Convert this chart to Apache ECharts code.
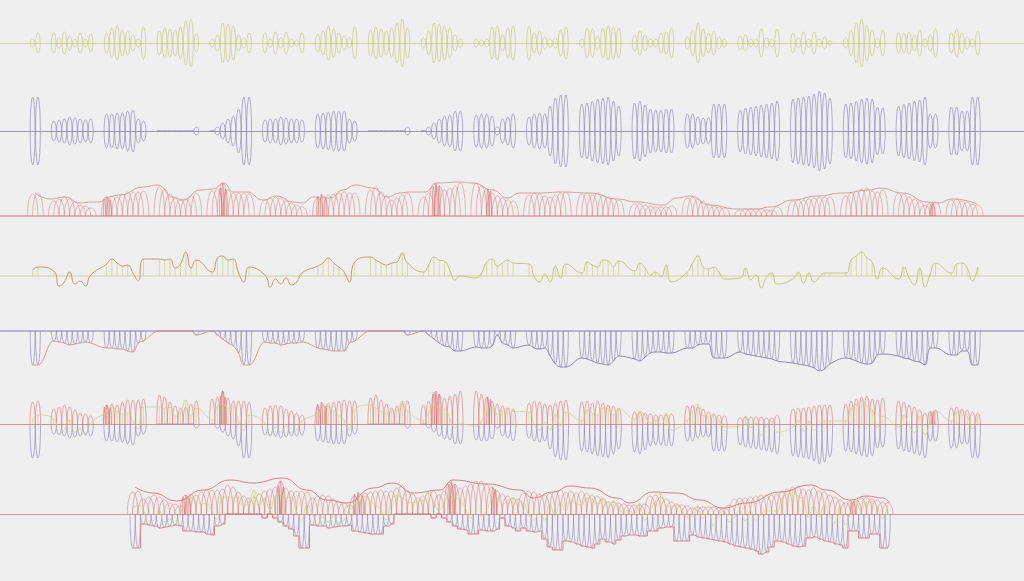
<!DOCTYPE html>
<html><head><meta charset="utf-8">
<script src="https://cdn.jsdelivr.net/npm/echarts@6/dist/echarts.min.js"></script>
<style>html,body{margin:0;padding:0;background:#efefef}#c{width:1024px;height:581px}</style>
</head><body><div id="c"></div>
<script>
// ---- data ----
const segmentSizes = [2,8,8,8,8,8,8,8,8,8,8,8,8,8,8,8,8,8,6];
// row 1: yellow oscillation amplitude
const yellowAmp = [
 4,10,
 10,5,11,7,4,10,4,9,
 10,15,17,13,12,8,4,16,
 12,15,14,13,16,22,24,9,
 4,8,20,19,17,8,5,10,
 10,4,11,5,11,4,3,10,
 9,12,17,14,10,7,5,16,
 13,16,14,12,15,20,24,15,
 5,12,20,19,17,15,8,4,
 4,3,4,16,17,8,15,17,
 17,10,12,6,4,5,13,16,
 4,15,14,7,15,17,16,15,
 8,12,8,4,4,10,11,15,
 6,13,20,14,10,12,6,4,
 7,8,4,4,14,5,4,14,
 10,5,11,4,11,4,6,2,
 5,13,20,24,18,13,5,13,
 10,10,11,8,13,4,8,14,
 10,14,10,6,4,12
];
// row 2 / row 5: purple amplitude
const purpleAmp = [
 34,34,
 10,11,12,14,13,12,11,12,
 17,17,18,18,20,21,12,10,
 0,0,0,0,0,0,0,4,
 0,4,8,12,15,22,34,34,
 11,12,12,14,13,12,12,11,
 17,18,19,20,20,20,12,10,
 0,0,0,0,0,0,0,4,
 0,4,8,12,15,16,20,20,
 16,17,17,15,4,12,14,17,
 14,17,18,17,25,33,36,36,
 27,28,30,32,33,34,30,25,
 28,30,26,22,21,21,22,22,
 17,17,14,13,13,27,27,27,
 21,23,24,25,26,27,28,30,
 32,33,34,35,37,40,38,33,
 27,28,30,32,33,32,24,23,
 25,27,28,30,31,34,17,17,
 24,24,20,20,34,34
];
// row 3: red arch height
const redArch = [
 22,23,
 15,17,19,17,14,11,10,8,
 19,20,19,22,24,24,24,25,
 29,27,22,18,16,17,20,23,
 25,27,33,26,23,23,23,22,
 16,18,19,18,15,13,11,9,
 18,20,21,22,23,24,23,23,
 26,29,24,20,16,18,21,23,
 19,23,32,30,26,28,30,33,
 33,30,27,23,20,18,16,15,
 21,23,22,20,19,21,23,24,
 22,23,21,23,21,19,18,16,
 12,12,11,10,9,9,9,10,
 18,19,17,15,12,10,9,8,
 6,7,7,7,7,6,6,9,
 15,16,16,17,18,19,19,19,
 20,23,25,27,28,25,24,26,
 23,22,19,17,14,11,13,14,
 16,17,15,14,12,11
];
// row 4: yellow signed wave
const yellowWave = [
 6,9,
 5,-10,-6,4,-8,-5,-10,1,
 12,17,13,10,11,3,-5,17,
 17,16,17,8,12,24,8,16,
 4,18,20,16,17,3,-6,9,
 1,-11,-3,-8,-2,-9,-6,3,
 10,13,18,13,9,4,-6,14,
 19,16,13,11,13,14,23,13,
 4,11,19,16,15,6,-4,0,
 -2,3,14,17,10,13,16,13,
 12,-1,-6,2,-6,10,-2,12,
 3,14,11,9,16,15,9,15,
 5,13,8,1,4,-1,11,-6,
 4,13,20,9,7,9,4,-3,
 -2,8,-4,1,-12,-1,3,-8,
 -3,4,-7,3,-6,-1,3,3,
 3,16,20,24,18,14,-3,8,
 -3,9,-2,-9,8,-11,2,13,
 3,12,13,8,-5,9
];
// row 3 envelope: [slot position, height]
const redEnvelope = [[0.95,23],[3.79,17],[6.63,19],[9.47,13],[11.74,14],[13.26,14],[14.58,19],[17.05,21],[21.4,29],[24.24,31],[27.08,19],[28.98,16],[32.2,26],[34.66,27],[36.74,33],[38.45,24],[41.1,24],[44.13,16],[46.78,20],[49.81,14],[51.7,13],[53.6,19],[56.82,18],[59.28,26],[61.55,31],[64.96,28],[67.61,19],[70.08,23],[71.97,24],[74.81,24],[77.08,33],[81.44,34],[83.9,33],[87.69,26],[90.34,18],[92.8,23],[96.02,23],[100.95,24],[106.06,23],[111.17,17],[114.96,14],[119.89,11],[122.54,18],[125,20],[128.79,11],[133.9,7],[137.69,7],[140.15,9],[144.5,16],[149.05,20],[153.98,23],[159.09,26],[160.98,28],[165.34,23],[169.89,14],[171.78,13],[174.81,17],[179.36,12]];
// row 7 envelope: [packed position, height]
const mergedEnvelope = [[0.95,27],[4.36,21],[8.9,13],[13.83,24],[18.94,34],[23.3,31],[28.98,36],[33.52,24],[37.31,14],[41.1,11],[46.02,26],[49.81,31],[53.6,21],[58.71,24],[61.17,34],[67.61,30],[73.86,24],[76.33,16],[80.11,22],[83.33,28],[87.12,26],[92.23,16],[94.7,11],[99.05,22],[103.6,21],[107.95,14],[112.31,6],[116.86,11],[123.11,22],[128.79,29],[132.01,24],[136.36,14],[139.58,18],[142.61,16],[143.9,11]];
// narrow red spikes: [slot position, height]
const redSpikes = [[14.1,17],[14.6,19],[15.2,16],[36.1,28],[36.5,33],[37.0,27],[54.5,20],[55.2,22],[56.0,18],[76.4,30],[76.9,33],[77.5,30],[86.7,27],[87.2,25],[170.6,12],[171.1,13]];

// ---- layout helpers ----
const segStart = [], segCum = [];
(function(){ let s=0,c=0; segmentSizes.forEach(sz=>{segStart.push(s);segCum.push(c);s+=sz+2;c+=sz;}); })();
const slotX = [];
segmentSizes.forEach((sz,k)=>{ for(let j=0;j<sz;j++) slotX.push(segStart[k]+j+0.5); });
const packX = slotX.map((_,i)=>i+0.5);
function toPacked(p){ for(let k=segmentSizes.length-1;k>=0;k--){ if(p>=segStart[k]) return segCum[k]+Math.min(p-segStart[k],segmentSizes[k]); } return p; }

const Y='#c4c974', P='#9086bd', R='#de7a7a';
const rows = [
 {top:0,  h:86, r:43, base:'#d4d79f', bw:1},
 {top:88, h:86, r:43, base:'#9d94c6', bw:1},
 {top:176,h:80, r:40, base:'#ecaeae', bw:2},
 {top:236,h:80, r:40, base:'#dadcb4', bw:1.5},
 {top:291,h:80, r:40, base:'#b9b2d8', bw:2},
 {top:380,h:88, r:44, base:'#e69090', bw:1},
 {top:470,h:88, r:44, base:'#e69090', bw:1, packed:true}
];
const grid=[], xAxis=[], yAxis=[];
rows.forEach((o,i)=>{
  grid.push({left:0,right:0,top:o.top,height:o.h});
  xAxis.push({type:'value',gridIndex:i,min:o.packed?-24.621:-5.682,max:o.packed?169.318:188.258,
    axisLine:{show:true,onZero:true,lineStyle:{color:o.base,width:o.bw}},axisTick:{show:false},axisLabel:{show:false},splitLine:{show:false}});
  yAxis.push({type:'value',gridIndex:i,min:-o.r,max:o.r,axisLine:{show:false},axisTick:{show:false},axisLabel:{show:false},splitLine:{show:false}});
});

function loops(g, xs, vals, rxU, mode, color, opacity, lw){
  return {type:'custom',xAxisIndex:g,yAxisIndex:g,silent:true,clip:false,z:3,
    data: xs.map((x,i)=>[x,vals[i]]),
    renderItem(params, api){
      const x=api.value(0), a=api.value(1);
      const c=api.coord([x,0]), t=api.coord([x,a]);
      const ry=Math.abs(c[1]-t[1]);
      const rx=Math.abs(api.coord([x+rxU,0])[0]-c[0]);
      let a0=0,a1=2*Math.PI;
      if(mode==='upper'){a0=Math.PI;a1=2*Math.PI;} else if(mode==='lower'){a0=0;a1=Math.PI;}
      const pts=[]; const n=28;
      for(let k=0;k<=n;k++){const th=a0+(a1-a0)*k/n; pts.push([c[0]+rx*Math.cos(th), c[1]+ry*Math.sin(th)]);}
      return {type:'polyline',shape:{points:pts},style:{fill:'none',stroke:color,lineWidth:lw,opacity:opacity}};
    }};
}
function bars(g, xs, vals, color, opacity){
  return {type:'custom',xAxisIndex:g,yAxisIndex:g,silent:true,clip:false,z:2,
    data: xs.map((x,i)=>[x,vals[i]]),
    renderItem(params, api){
      const v=api.value(1); if(!(v>0)) return null;
      const c=api.coord([api.value(0),0]), t=api.coord([api.value(0),v]);
      return {type:'line',shape:{x1:c[0],y1:c[1],x2:t[0],y2:t[1]},style:{stroke:color,lineWidth:1,opacity:opacity}};
    }};
}
function curve(g, data, color, lw, opts){
  return Object.assign({type:'line',xAxisIndex:g,yAxisIndex:g,data:data,showSymbol:false,symbol:'none',silent:true,
    smooth:0.5,z:4,lineStyle:{color:color,width:lw}}, opts||{});
}
const grad = (c1,c2,p1,p2)=> new echarts.graphic.LinearGradient(0,0,1,0,[{offset:0,color:c1},{offset:p1,color:c1},{offset:p2,color:c2},{offset:1,color:c2}]);

const spikeX = redSpikes.map(d=>d[0]), spikeH = redSpikes.map(d=>d[1]);
const series = [];
// row 1
series.push(loops(0, slotX, yellowAmp, 0.42, 'full', Y, 0.65, 1));
// row 2
series.push(loops(1, slotX, purpleAmp, 0.46, 'full', P, 0.65, 1));
// row 3
series.push(loops(2, slotX, redArch, 1.0, 'upper', R, 0.5, 1));
series.push(loops(2, spikeX, spikeH, 0.2, 'upper', '#d86060', 0.55, 1));
series.push(curve(2, redEnvelope, '#d8a098', 1, {smoothMonotone:'x'}));
// row 4
series.push(bars(3, slotX, yellowWave, '#cbd07e', 0.65));
series.push(curve(3, slotX.map((x,i)=>[x,yellowWave[i]]), grad('#c49c66','#c4c974',0.38,0.43), 1));
// row 5
series.push(loops(4, slotX, purpleAmp, 0.46, 'lower', P, 0.65, 1));
series.push(curve(4, slotX.map((x,i)=>[x,-purpleAmp[i]]), grad('#d0a084','#9086bd',0.39,0.45), 1, {smooth:0.4}));
// row 6
series.push(bars(5, slotX, yellowWave, '#cbd07e', 0.6));
series.push(curve(5, slotX.map((x,i)=>[x,yellowWave[i]]), '#cdd17e', 1, {lineStyle:{color:'#cdd17e',width:1,opacity:0.7}}));
series.push(loops(5, slotX, purpleAmp, 0.5, 'lower', P, 0.65, 1));
series.push(loops(5, slotX, redArch, 0.5, 'upper', R, 0.65, 1));
series.push(loops(5, spikeX, spikeH, 0.2, 'upper', '#d86060', 0.55, 1));
// row 7 (packed, no gaps)
series.push(bars(6, packX, yellowWave, '#cbd07e', 0.6));
series.push(curve(6, packX.map((x,i)=>[x,yellowWave[i]]), '#cdd17e', 1, {lineStyle:{color:'#cdd17e',width:1,opacity:0.7}}));
series.push(loops(6, packX, purpleAmp, 0.5, 'lower', P, 0.6, 1));
series.push(loops(6, packX, redArch, 1.0, 'upper', R, 0.55, 1));
series.push(loops(6, spikeX.map(toPacked), spikeH, 0.2, 'upper', '#d86060', 0.55, 1));
series.push(curve(6, mergedEnvelope, '#e08080', 1, {smoothMonotone:'x'}));
series.push(curve(6, packX.map((x,i)=>[x,-purpleAmp[i]]), '#e08080', 1, {smooth:false,step:'middle'}));

const chart = echarts.init(document.getElementById('c'), null, {renderer:'canvas'});
chart.setOption({backgroundColor:'#efefef',animation:false,grid,xAxis,yAxis,series});
</script></body></html>
